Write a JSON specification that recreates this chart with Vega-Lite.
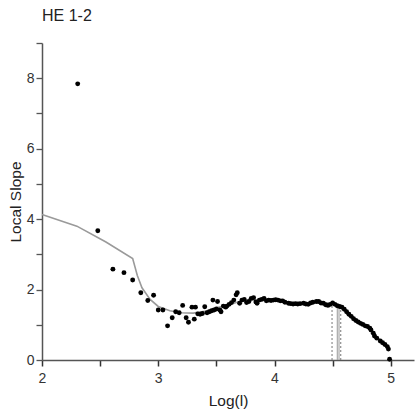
{
  "$schema": "https://vega.github.io/schema/vega-lite/v6.json",
  "autosize": "none",
  "width": 372,
  "height": 317,
  "padding": {"left": 42, "top": 43, "right": 2, "bottom": 57},
  "background": "white",
  "config": {
    "view": {"stroke": null},
    "font": "Liberation Sans",
    "axis": {"grid": false, "domainColor": "#555", "domainWidth": 1.5, "tickColor": "#555", "tickWidth": 1.3, "labelColor": "#333", "titleColor": "#222", "labelFontSize": 14, "titleFontSize": 15.5, "titleFontWeight": "normal", "labelFont": "Liberation Sans", "titleFont": "Liberation Sans"}
  },
  "title": {"text": "HE 1-2", "anchor": "start", "frame": "group", "fontSize": 16, "fontWeight": "normal", "color": "#222", "offset": 18, "font": "Liberation Sans"},
  "datasets": {
    "pts": [
      {"x": 2.307, "y": 7.84}, {"x": 2.48, "y": 3.67}, {"x": 2.61, "y": 2.58}, {"x": 2.705, "y": 2.48}, {"x": 2.78, "y": 2.27},
      {"x": 2.85, "y": 1.91}, {"x": 2.91, "y": 1.69}, {"x": 2.96, "y": 1.84}, {"x": 3.0, "y": 1.42}, {"x": 3.04, "y": 1.42},
      {"x": 3.08, "y": 0.97}, {"x": 3.12, "y": 1.2}, {"x": 3.15, "y": 1.37}, {"x": 3.18, "y": 1.34}, {"x": 3.21, "y": 1.55},
      {"x": 3.24, "y": 1.2}, {"x": 3.26, "y": 1.07}, {"x": 3.29, "y": 1.5}, {"x": 3.31, "y": 1.16}, {"x": 3.32, "y": 1.5},
      {"x": 3.34, "y": 1.31}, {"x": 3.36, "y": 1.3}, {"x": 3.38, "y": 1.32}, {"x": 3.4, "y": 1.51}, {"x": 3.42, "y": 1.34},
      {"x": 3.44, "y": 1.37}, {"x": 3.46, "y": 1.4}, {"x": 3.47, "y": 1.7}, {"x": 3.48, "y": 1.42}, {"x": 3.5, "y": 1.45},
      {"x": 3.51, "y": 1.66}, {"x": 3.53, "y": 1.42}, {"x": 3.54, "y": 1.37}, {"x": 3.56, "y": 1.53}, {"x": 3.58, "y": 1.5},
      {"x": 3.59, "y": 1.53}, {"x": 3.61, "y": 1.58}, {"x": 3.63, "y": 1.63}, {"x": 3.65, "y": 1.7}, {"x": 3.67, "y": 1.85},
      {"x": 3.68, "y": 1.91}, {"x": 3.7, "y": 1.61}, {"x": 3.72, "y": 1.7}, {"x": 3.74, "y": 1.72}, {"x": 3.76, "y": 1.63},
      {"x": 3.78, "y": 1.66}, {"x": 3.8, "y": 1.75}, {"x": 3.82, "y": 1.77}, {"x": 3.84, "y": 1.65}, {"x": 3.85, "y": 1.61},
      {"x": 3.87, "y": 1.7}, {"x": 3.89, "y": 1.72}, {"x": 3.91, "y": 1.75}, {"x": 3.93, "y": 1.68}, {"x": 3.95, "y": 1.7},
      {"x": 3.97, "y": 1.69}, {"x": 3.99, "y": 1.7}, {"x": 4.01, "y": 1.71}, {"x": 4.03, "y": 1.7}, {"x": 4.05, "y": 1.68},
      {"x": 4.07, "y": 1.68}, {"x": 4.09, "y": 1.64}, {"x": 4.12, "y": 1.61}, {"x": 4.14, "y": 1.6}, {"x": 4.16, "y": 1.59},
      {"x": 4.18, "y": 1.6}, {"x": 4.2, "y": 1.59}, {"x": 4.22, "y": 1.6}, {"x": 4.25, "y": 1.61}, {"x": 4.27, "y": 1.59},
      {"x": 4.29, "y": 1.58}, {"x": 4.31, "y": 1.62}, {"x": 4.33, "y": 1.64}, {"x": 4.36, "y": 1.66}, {"x": 4.38, "y": 1.66},
      {"x": 4.4, "y": 1.62}, {"x": 4.42, "y": 1.61}, {"x": 4.44, "y": 1.57}, {"x": 4.46, "y": 1.55}, {"x": 4.48, "y": 1.58},
      {"x": 4.5, "y": 1.62}, {"x": 4.52, "y": 1.58}, {"x": 4.54, "y": 1.54}, {"x": 4.56, "y": 1.52}, {"x": 4.58, "y": 1.5},
      {"x": 4.6, "y": 1.44}, {"x": 4.62, "y": 1.37}, {"x": 4.64, "y": 1.3}, {"x": 4.66, "y": 1.24}, {"x": 4.68, "y": 1.17},
      {"x": 4.7, "y": 1.12}, {"x": 4.72, "y": 1.08}, {"x": 4.74, "y": 1.04}, {"x": 4.76, "y": 1.01}, {"x": 4.78, "y": 0.97},
      {"x": 4.8, "y": 0.95}, {"x": 4.82, "y": 0.9}, {"x": 4.83, "y": 0.85}, {"x": 4.85, "y": 0.76}, {"x": 4.86, "y": 0.68},
      {"x": 4.88, "y": 0.62}, {"x": 4.91, "y": 0.54}, {"x": 4.93, "y": 0.49}, {"x": 4.95, "y": 0.44}, {"x": 4.97, "y": 0.38},
      {"x": 4.98, "y": 0.31}, {"x": 4.99, "y": 0.02}
    ],
    "fit": [
      {"x": 2.0, "y": 4.13}, {"x": 2.3, "y": 3.8}, {"x": 2.55, "y": 3.35}, {"x": 2.78, "y": 2.88}, {"x": 2.82, "y": 2.4},
      {"x": 2.86, "y": 2.05}, {"x": 2.93, "y": 1.72}, {"x": 3.0, "y": 1.52}, {"x": 3.1, "y": 1.4}, {"x": 3.2, "y": 1.34},
      {"x": 3.3, "y": 1.33}, {"x": 3.4, "y": 1.38}, {"x": 3.5, "y": 1.48}, {"x": 3.6, "y": 1.56}, {"x": 3.7, "y": 1.66},
      {"x": 3.8, "y": 1.7}, {"x": 3.9, "y": 1.7}, {"x": 4.0, "y": 1.7}, {"x": 4.1, "y": 1.65}, {"x": 4.2, "y": 1.6},
      {"x": 4.3, "y": 1.6}, {"x": 4.4, "y": 1.63}, {"x": 4.5, "y": 1.6}, {"x": 4.6, "y": 1.45}, {"x": 4.7, "y": 1.13},
      {"x": 4.8, "y": 0.95}, {"x": 4.9, "y": 0.58}, {"x": 4.98, "y": 0.32}
    ],
    "dashed": [{"x": 4.495, "y": 0, "y2": 1.6}, {"x": 4.57, "y": 0, "y2": 1.5}],
    "solid": [{"x": 4.54, "y": 0, "y2": 1.55}, {"x": 4.555, "y": 0, "y2": 1.53}]
  },
  "encoding": {
    "x": {"field": "x", "type": "quantitative", "scale": {"domain": [2, 5.2], "nice": false, "zero": false},
      "axis": {"title": "Log(l)", "values": [2, 2.5, 3, 3.5, 4, 4.5, 5], "format": "~g", "labelExpr": "datum.value % 1 == 0 ? datum.label : ''", "tickSize": 6, "tickColor": "#333", "tickWidth": 1.5, "labelPadding": 5, "titlePadding": 8, "labelFlush": false}},
    "y": {"field": "y", "type": "quantitative", "scale": {"domain": [0, 9], "nice": false},
      "axis": {"title": "Local Slope", "values": [0, 1, 2, 3, 4, 5, 6, 7, 8, 9], "labelExpr": "datum.value % 2 == 0 ? datum.label : ''", "tickSize": 6, "labelPadding": 2, "titlePadding": 3, "labelFlush": false}}
  },
  "layer": [
    {"data": {"name": "fit"}, "mark": {"type": "line", "color": "#9a9a9a", "strokeWidth": 1.6}},
    {"data": {"name": "dashed"}, "mark": {"type": "rule", "color": "#777", "strokeWidth": 1, "strokeDash": [2, 2]}, "encoding": {"y2": {"field": "y2"}}},
    {"data": {"name": "solid"}, "mark": {"type": "rule", "color": "#999", "strokeWidth": 1}, "encoding": {"y2": {"field": "y2"}}},
    {"data": {"name": "pts"}, "mark": {"type": "circle", "color": "black", "opacity": 1, "size": 24}}
  ]
}
